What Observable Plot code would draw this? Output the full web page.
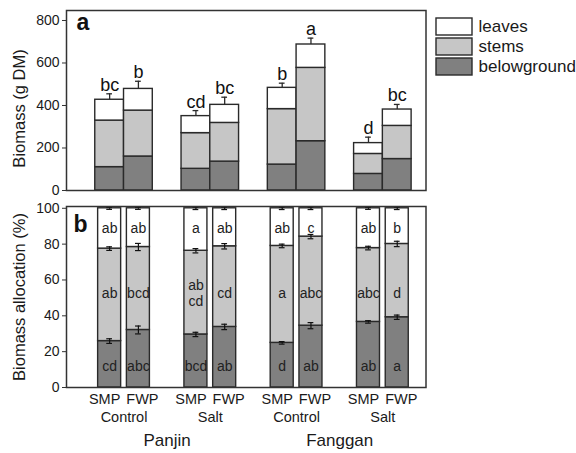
<!DOCTYPE html>
<html><head><meta charset="utf-8">
<script src="https://cdn.jsdelivr.net/npm/d3@7"></script>
<script src="https://cdn.jsdelivr.net/npm/@observablehq/plot@0.6"></script>
<style>
body{margin:0;background:#fff;}
#chart{position:relative;width:576px;height:453px;font-family:Arial,"Liberation Sans",sans-serif;}
#chart > svg{position:absolute;}
</style></head><body><div id="chart"></div>
<script>
// ---- data ----
const sites = ["Panjin", "Fanggan"];
const treatments = ["Control", "Salt"];
const methods = ["SMP", "FWP"];
const components = ["leaves", "stems", "belowground"];
// bar order: Panjin-Control-SMP, Panjin-Control-FWP, Panjin-Salt-SMP, Panjin-Salt-FWP,
//            Fanggan-Control-SMP, Fanggan-Control-FWP, Fanggan-Salt-SMP, Fanggan-Salt-FWP
// (a) biomass, g DM
const belowBiomass = [110, 160, 102, 136, 122, 232, 78, 148];
const stemBiomass  = [219, 216, 168, 182, 261, 345, 94, 156];
const leafBiomass  = [98, 102, 80, 85, 100, 110, 51, 77];
const totalErr     = [28, 36, 26, 36, 22, 30, 28, 24];
const totalLetters = ["bc", "b", "cd", "bc", "b", "a", "d", "bc"];
// (b) allocation, %
const belowPct = [25.9, 32.1, 29.6, 33.8, 24.9, 34.5, 36.6, 39.2];
const stemPct  = [51.6, 46.3, 46.7, 45.0, 54.1, 49.7, 41.2, 40.9];
const leafPct  = [22.5, 21.6, 23.7, 21.2, 21.0, 15.8, 22.2, 19.9];
const belowPctErr = [1.3, 2.2, 1.2, 1.5, 0.7, 1.7, 0.7, 1.2];
const stemPctErr  = [1.0, 2.0, 1.2, 1.5, 1.0, 1.2, 1.0, 1.5];
const leafPctErr  = [0.6, 0.6, 0.7, 0.7, 0.7, 0.7, 0.6, 0.7];
const leafLetters  = ["ab", "ab", "a", "ab", "ab", "c", "ab", "b"];
const stemLetters  = ["ab", "bcd", "ab\ncd", "cd", "a", "abc", "abc", "d"];
const belowLetters = ["cd", "abc", "bcd", "ab", "d", "ab", "ab", "a"];
const yTicksA = [0, 200, 400, 600, 800];
const yTicksB = [0, 20, 40, 60, 80, 100];
const letterLevels = {leaves: 89, stems: 53, belowground: 12};

// ---- derived tables ----
const bars = [];
sites.forEach((s, si) => treatments.forEach((t, ti) => methods.forEach((m, mi) => {
  const i = bars.length;
  const g = si * 2 + ti;
  bars.push({i, site: s, treatment: t, method: m, group: g, pos: g * 3 + mi});
})));
function stackRows(vals) {
  const rows = [];
  bars.forEach(b => {
    let acc = 0;
    [["belowground", vals.belowground], ["stems", vals.stems], ["leaves", vals.leaves]].forEach(([c, arr]) => {
      const v = arr[b.i];
      rows.push({...b, component: c, y1: acc, y2: acc + v});
      acc += v;
    });
  });
  return rows;
}
const rowsA = stackRows({belowground: belowBiomass, stems: stemBiomass, leaves: leafBiomass});
const rowsB = stackRows({belowground: belowPct, stems: stemPct, leaves: leafPct});
const totA = bars.map(b => ({...b, total: belowBiomass[b.i] + stemBiomass[b.i] + leafBiomass[b.i], err: totalErr[b.i], label: totalLetters[b.i]}));
const errB = [];
bars.forEach(b => {
  const lvl1 = belowPct[b.i], lvl2 = belowPct[b.i] + stemPct[b.i], lvl3 = lvl2 + leafPct[b.i];
  errB.push({...b, v: lvl1, e: belowPctErr[b.i]});
  errB.push({...b, v: lvl2, e: stemPctErr[b.i]});
  errB.push({...b, v: lvl3, e: leafPctErr[b.i]});
});
const lettersB = [];
bars.forEach(b => {
  lettersB.push({...b, component: "leaves", text: leafLetters[b.i]});
  lettersB.push({...b, component: "stems", text: stemLetters[b.i]});
  lettersB.push({...b, component: "belowground", text: belowLetters[b.i]});
});
const groups = d3.range(4).map(g => ({g, label: treatments[g % 2], x: g * 3 + 0.5}));
const siteRows = sites.map((s, si) => ({label: s, x: si * 6 + 2}));

const color = {domain: components, range: ["#ffffff", "#c6c6c6", "#808080"]};
const ink = "#2a2a2a";
const font = "Arial, 'Liberation Sans', sans-serif";
const xDomain = [-1.5, 11];

const chart = document.getElementById("chart");

// ---- panel a ----
const pa = Plot.plot({
  width: 576, height: 200,
  marginLeft: 66, marginRight: 150.5, marginTop: 10, marginBottom: 10,
  style: {fontFamily: font, color: "#1a1a1a", background: "transparent", overflow: "visible"},
  x: {domain: xDomain, axis: null},
  y: {domain: [0, 847], axis: null},
  color,
  marks: [
    Plot.rect(rowsA, {x1: d => d.pos - 0.5, x2: d => d.pos + 0.5, y1: "y1", y2: "y2", fill: "component", stroke: ink, strokeWidth: 1.4}),
    Plot.ruleX(totA, {x: "pos", y1: "total", y2: d => d.total + d.err, stroke: ink, strokeWidth: 1.3}),
    Plot.ruleY(totA, {y: d => d.total + d.err, x1: d => d.pos - 0.1, x2: d => d.pos + 0.1, stroke: ink, strokeWidth: 1.3}),
    Plot.text(totA, {x: "pos", y: d => d.total + d.err, text: "label", lineAnchor: "bottom", dy: -3, fontSize: 18, fill: "#111"}),
    Plot.axisY({ticks: yTicksA, tickSize: 4, tickPadding: 3, fontSize: 14, label: null, stroke: "#333"}),
    Plot.frame({stroke: "#333", strokeWidth: 1.5}),
    Plot.text(["a"], {frameAnchor: "top-left", textAnchor: "start", lineAnchor: "top", dx: 10, dy: 3.5, fontSize: 23, fontWeight: "bold", fill: "#111"}),
    Plot.text(["Biomass (g DM)"], {frameAnchor: "left", textAnchor: "middle", lineAnchor: "middle", rotate: -90, dx: -47, dy: 8, fontSize: 16.5, fill: "#1a1a1a"})
  ]
});
pa.style.left = "0px"; pa.style.top = "0px";
chart.appendChild(pa);

// ---- panel b ----
const pb = Plot.plot({
  width: 576, height: 258,
  marginLeft: 66, marginRight: 150.5, marginTop: 11, marginBottom: 66,
  style: {fontFamily: font, color: "#1a1a1a", background: "transparent", overflow: "visible"},
  x: {domain: xDomain, axis: null},
  y: {domain: [0, 101], axis: null},
  color,
  marks: [
    Plot.rect(rowsB, {x1: d => d.pos - 0.4, x2: d => d.pos + 0.4, y1: "y1", y2: "y2", fill: "component", stroke: ink, strokeWidth: 1.4}),
    Plot.ruleX(errB, {x: "pos", y1: d => d.v - d.e, y2: d => d.v + d.e, stroke: "#111", strokeWidth: 1.2}),
    Plot.ruleY(errB, {y: d => d.v - d.e, x1: d => d.pos - 0.1, x2: d => d.pos + 0.1, stroke: "#111", strokeWidth: 1.2}),
    Plot.ruleY(errB, {y: d => d.v + d.e, x1: d => d.pos - 0.1, x2: d => d.pos + 0.1, stroke: "#111", strokeWidth: 1.2}),
    Plot.text(lettersB, {x: "pos", y: d => letterLevels[d.component], text: "text", fontSize: 14, fill: "#222", lineHeight: 1.15}),
    Plot.axisY({ticks: yTicksB, tickSize: 4, tickPadding: 3, fontSize: 14, label: null, stroke: "#333"}),
    Plot.frame({stroke: "#333", strokeWidth: 1.5}),
    Plot.text(bars.filter(b => b.method === "SMP"), {x: "pos", text: "method", frameAnchor: "bottom", lineAnchor: "bottom", dy: 16, dx: -5, fontSize: 14.5}),
    Plot.text(bars.filter(b => b.method === "FWP"), {x: "pos", text: "method", frameAnchor: "bottom", lineAnchor: "bottom", dy: 16, dx: 4, fontSize: 14.5}),
    Plot.text(groups, {x: "x", text: "label", frameAnchor: "bottom", lineAnchor: "bottom", dy: 34, fontSize: 14.5}),
    Plot.text(siteRows, {x: "x", text: "label", frameAnchor: "bottom", lineAnchor: "bottom", dy: 58.5, fontSize: 17}),
    Plot.text(["b"], {frameAnchor: "top-left", textAnchor: "start", lineAnchor: "top", dx: 7, dy: 9, fontSize: 23, fontWeight: "bold", fill: "#111"}),
    Plot.text(["Biomass allocation (%)"], {frameAnchor: "left", textAnchor: "middle", lineAnchor: "middle", rotate: -90, dx: -47, dy: 0, fontSize: 16.5, fill: "#1a1a1a"})
  ]
});
pb.style.left = "0px"; pb.style.top = "195px";
chart.appendChild(pb);

// ---- legend ----
const lg = Plot.plot({
  width: 146, height: 75, margin: 0,
  style: {fontFamily: font, color: "#1a1a1a", background: "transparent", overflow: "visible"},
  x: {domain: [0, 1], range: [6, 42], axis: null},
  y: {domain: components, range: [6.7, 66], paddingInner: 0.156, paddingOuter: 0, axis: null},
  color,
  marks: [
    Plot.barX(components, {x1: 0, x2: 1, y: d => d, fill: d => d, stroke: ink, strokeWidth: 1.4}),
    Plot.text(components, {x: 1, y: d => d, text: d => d, textAnchor: "start", dx: 6, fontSize: 17, fill: "#1a1a1a"})
  ]
});
lg.style.left = "430px"; lg.style.top = "10px";
chart.appendChild(lg);
</script></body></html>
